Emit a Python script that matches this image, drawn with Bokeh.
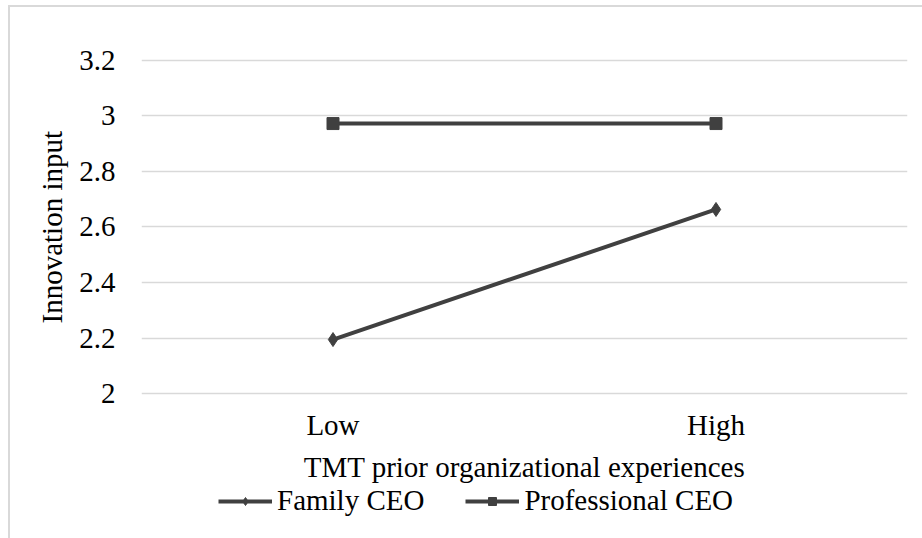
from bokeh.plotting import figure
from bokeh.models import (FactorRange, Range1d, FixedTicker, CustomJSTickFormatter,
                          Legend, LegendItem, InlineStyleSheet, Title)
from bokeh.embed import file_html
from bokeh.resources import INLINE

categories = ["Low", "High"]
family_ceo = [2.195, 2.663]
professional_ceo = [2.972, 2.972]
y_ticks = [2.0, 2.2, 2.4, 2.6, 2.8, 3.0, 3.2]

FONT = "Liberation Serif"
FS = "29px"
DARK = "#404040"
GRID = "#d9d9d9"

# plot frame covers the whole area below the top margin so the legend sits inside it
p = figure(width=922, height=538, frame_width=766, frame_height=480,
           output_backend="svg", toolbar_location=None,
           x_range=FactorRange(factors=categories, range_padding=0),
           y_range=Range1d(1.4794, 3.206),
           min_border_left=141, min_border_right=15, min_border_top=58, min_border_bottom=0)
p.background_fill_color = "white"
p.border_fill_color = "white"
p.outline_line_color = None

# axes
p.yaxis.ticker = FixedTicker(ticks=y_ticks)
p.yaxis.formatter = CustomJSTickFormatter(code="return tick.toFixed(1).replace(/\\.0$/, '');")
for ax in (p.xaxis[0], p.yaxis[0]):
    ax.axis_line_color = None
    ax.major_tick_line_color = None
    ax.minor_tick_line_color = None
    ax.major_tick_out = 0
    ax.major_tick_in = 0
    ax.major_label_text_font = FONT
    ax.major_label_text_font_size = FS
    ax.major_label_text_color = "black"
    ax.axis_label_text_font = FONT
    ax.axis_label_text_font_size = FS
    ax.axis_label_text_font_style = "normal"
    ax.axis_label_text_color = "black"

p.yaxis.major_label_standoff = 26
p.xaxis.fixed_location = y_ticks[0]
p.xaxis.axis_label = "TMT prior organizational experiences"
p.xaxis.major_label_standoff = 15
p.xaxis.axis_label_standoff = 7

# y-axis title, placed alongside the value range (2 .. 3.2)
p.add_layout(Title(text="Innovation input", align="left", offset=215, standoff=17,
                   text_font=FONT, text_font_size=FS, text_font_style="normal",
                   text_color="black"), "left")

p.xgrid.grid_line_color = None
p.ygrid.ticker = FixedTicker(ticks=y_ticks)
p.ygrid.grid_line_color = GRID
p.ygrid.grid_line_width = 1.5

# series
fam_line = p.line(categories, family_ceo, line_color=DARK, line_width=4)
fam_mark = p.scatter(categories, family_ceo, marker="diamond", size=14,
                     fill_color=DARK, line_color=DARK)
pro_line = p.line(categories, professional_ceo, line_color=DARK, line_width=4)
pro_mark = p.scatter(categories, professional_ceo, marker="square", size=12,
                     fill_color=DARK, line_color=DARK)

legend = Legend(items=[LegendItem(label="Family CEO", renderers=[fam_line, fam_mark]),
                       LegendItem(label="Professional CEO", renderers=[pro_line, pro_mark])],
                orientation="horizontal", location=(77, 21),
                glyph_width=54, glyph_height=20, label_standoff=5, spacing=41,
                padding=0, margin=0, border_line_color=None, background_fill_alpha=0,
                label_text_font=FONT, label_text_font_size=FS, label_text_color="black")
p.add_layout(legend, "center")

# chart-area border (left and top edges visible in the crop)
p.stylesheets = [InlineStyleSheet(css=(
    ":host::after { content: ''; position: absolute; left: 8px; top: 5px; right: 0; bottom: 0; "
    "border-left: 2px solid #d9d9d9; border-top: 2px solid #d9d9d9; pointer-events: none; }"
))]

open("out.html", "w").write(file_html(p, INLINE))
